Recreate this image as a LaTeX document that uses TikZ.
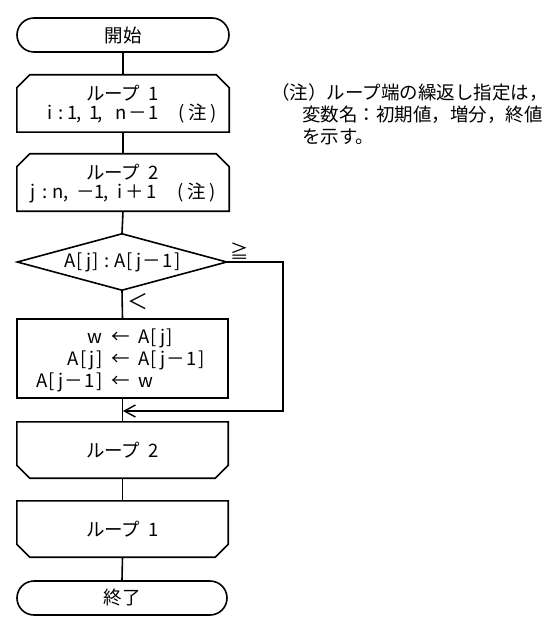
\documentclass[tikz,border=0pt]{standalone}
\usepackage{fontspec}
\setmainfont{Noto Sans CJK JP}
\usetikzlibrary{arrows.meta,calc}
\newcommand\gl[2]{\makebox[0pt]{#1}\hspace{#2pt}}
\newcommand\ls{\addfontfeature{LetterSpace=8}}
\newcommand\lp[1]{ループ\hspace{0.45em}#1}
\begin{document}
\begin{tikzpicture}[x=1pt,y=-1pt,
  every node/.style={font=\fontsize{18.5}{22}\selectfont, inner sep=0pt},
  line/.style={line width=1.6pt, line join=miter},
  term/.style={draw, line width=1.6pt, rounded corners=17pt, minimum width=212pt, minimum height=34pt},
  blk/.style={minimum width=212pt},
  arr/.style={line, -{Straight Barb[length=11pt,width=12pt,line width=1.4pt]}}
]
\useasboundingbox (0,0) rectangle (555,631);

% nodes
\node[term] (start) at (123,35) {開始};
\node[blk, minimum height=57pt] (l1) at (123,103.5) {};
\node[blk, minimum height=57pt] (l2) at (123,182.5) {};
\node[minimum width=209pt, minimum height=56pt] (d) at (122,262) {};
\node[blk, minimum width=211pt, minimum height=79pt, draw, line width=1.6pt] (proc) at (122.5,358.5) {};
\node[blk, minimum width=211pt, minimum height=56pt] (e2) at (122.5,450) {\lp{2}};
\node[blk, minimum width=211pt, minimum height=56pt] (e1) at (122.5,529) {\lp{1}};
\node[term, minimum width=210pt] (end) at (122,598) {終了};

% texts inside loop-start boxes
\node (l1a) at (122.5,93) {\lp{1}};
\node[anchor=west] (l1b) at (50,114)
  {\gl{i}{11}\gl{:}{11}\gl{1}{7}\gl{,}{15}\gl{1}{6}\gl{,}{21}\gl{n}{17}\gl{－}{15}\gl{1}{28.5}\gl{(}{16.5}\gl{注}{15.5}\gl{)}{0}};
\node (l2a) at (122.5,172) {\lp{2}};
\node[anchor=west] (l2b) at (33,193)
  {\gl{j}{12}\gl{:}{12.5}\gl{n}{8.5}\gl{,}{20}\gl{－}{13}\gl{1}{7}\gl{,}{14}\gl{i}{15}\gl{＋}{16}\gl{1}{29.5}\gl{(}{16.5}\gl{注}{15.5}\gl{)}{0}};

% decision text
\node (dt) at (122.5,262) {{\ls A[j]}\hspace{5pt}:\hspace{5pt}{\ls A[j－1]}};

% process texts
\node[anchor=east] (p1l) at (103,338) {\ls w};
\node (p1a) at (120.5,338) {←};
\node[anchor=west] (p1r) at (138,338) {\ls A[j]};
\node[anchor=east] (p2l) at (103,360) {\ls A[j]};
\node (p2a) at (120.5,360) {←};
\node[anchor=west] (p2r) at (138,360) {\ls A[j－1]};
\node[anchor=east] (p3l) at (103,382) {\ls A[j－1]};
\node (p3a) at (120.5,382) {←};
\node[anchor=west] (p3r) at (138,382) {\ls w};

% labels
\node (ge) at (240,251.5) {≧};
\node[font=\fontsize{21}{22}\selectfont] (lt) at (137.5,302) {＜};
\node[anchor=west] (n1) at (271,93) {（注）ループ端の繰返し指定は，};
\node[anchor=west] (n2) at (302,115) {変数名：初期値，増分，終値};
\node[anchor=west] (n3) at (302,137) {を示す。};

% loop-start outlines
\foreach \n in {l1,l2}{
  \draw[line] (\n.south west) -- ($(\n.north west)+(0,13)$) -- ($(\n.north west)+(13,0)$)
    -- ($(\n.north east)+(-13,0)$) -- ($(\n.north east)+(0,13)$) -- (\n.south east) -- cycle;
}
% loop-end outlines
\foreach \n in {e1,e2}{
  \draw[line] (\n.north west) -- ($(\n.south west)+(0,-13)$) -- ($(\n.south west)+(13,0)$)
    -- ($(\n.south east)+(-13,0)$) -- ($(\n.south east)+(0,-13)$) -- (\n.north east) -- cycle;
}
% diamond
\draw[line] (d.north) -- (d.east) -- (d.south) -- (d.west) -- cycle;

% connectors
\draw[line] (start.south) -- (l1.north);
\draw[line] (l1.south) -- (l2.north);
\draw[line] (l2.south) -- (d.north);
\draw[line] (d.south) -- (proc.north);
\draw[line] (proc.south) -- (e2.north);
\draw[line] (e2.south) -- (e1.north);
\draw[line] (e1.south) -- (end.north);
\coordinate (m) at (123,411);
\coordinate (r1) at (283,262);
\coordinate (r2) at (283,411);
\draw[arr] (d.east) -- (r1) -- (r2) -- (m);
\end{tikzpicture}
\end{document}
